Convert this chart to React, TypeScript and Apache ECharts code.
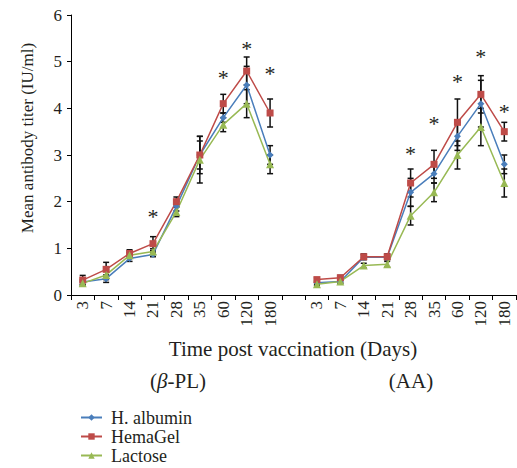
import React, { useEffect, useRef } from "react";
import * as echarts from "echarts";

const days = ["3", "7", "14", "21", "28", "35", "60", "120", "180"];
const categories = [...days, "", ...days];
const groupLabels = ["{p|(}{i|β}{p|-PL)}", "{p|(AA)}"];
const seriesNames = ["H. albumin", "HemaGel", "Lactose"];
const yTicks = [0, 1, 2, 3, 4, 5, 6];

// means (β-PL group, AA group)
const albuminPL = [0.28, 0.35, 0.78, 0.87, 1.9, 3.0, 3.8, 4.5, 3.0];
const albuminAA = [0.26, 0.29, 0.81, 0.81, 2.2, 2.6, 3.4, 4.1, 2.8];
const hemagelPL = [0.32, 0.55, 0.89, 1.1, 2.0, 3.0, 4.1, 4.8, 3.9];
const hemagelAA = [0.33, 0.37, 0.82, 0.82, 2.4, 2.8, 3.7, 4.3, 3.5];
const lactosePL = [0.25, 0.43, 0.85, 0.93, 1.78, 2.9, 3.65, 4.1, 2.8];
const lactoseAA = [0.23, 0.29, 0.63, 0.66, 1.7, 2.2, 3.0, 3.6, 2.4];

// error bar half-widths
const albuminErrPL = [0.05, 0.08, 0.06, 0.05, 0.1, 0.3, 0.1, 0.4, 0.2];
const albuminErrAA = [0.04, 0.04, 0.05, 0.05, 0.3, 0.2, 0.3, 0.5, 0.2];
const hemagelErrPL = [0.1, 0.15, 0.08, 0.15, 0.1, 0.4, 0.2, 0.3, 0.3];
const hemagelErrAA = [0.04, 0.05, 0.06, 0.06, 0.3, 0.3, 0.5, 0.4, 0.2];
const lactoseErrPL = [0.05, 0.1, 0.06, 0.06, 0.1, 0.5, 0.15, 0.3, 0.2];
const lactoseErrAA = [0.03, 0.03, 0.05, 0.06, 0.2, 0.2, 0.3, 0.4, 0.3];

// significance marks (height of asterisk)
const starPL: (number | null)[] = [null, null, null, 1.8, null, null, 4.76, 5.38, 4.86];
const starAA: (number | null)[] = [null, null, null, null, 3.14, 3.79, 4.69, 5.21, 4.05];

const colors = ["#4A7EBB", "#BE4B48", "#98B954"];
const symbols = ["diamond", "rect", "triangle"];
const symbolSizes = [7, 7, 8];
const FONT = '"Liberation Serif", "Times New Roman", serif';
const TEXT = "#231F20";

const join = (a: any[], b: any[]) => [...a, "-", ...b];

export default function App() {
  const ref = useRef<HTMLDivElement>(null);
  useEffect(() => {
    if (!ref.current) return;
    const chart = echarts.init(ref.current, null, { renderer: "svg" });
    const means = [
      join(albuminPL, albuminAA),
      join(hemagelPL, hemagelAA),
      join(lactosePL, lactoseAA),
    ];
    const errs = [
      join(albuminErrPL, albuminErrAA),
      join(hemagelErrPL, hemagelErrAA),
      join(lactoseErrPL, lactoseErrAA),
    ];
    const errData: number[][] = [];
    means.forEach((m, s) => {
      m.forEach((v: any, i: number) => {
        if (v === "-") return;
        const e = errs[s][i];
        errData.push([i, v - e, v + e]);
      });
    });
    const stars = [...starPL, null, ...starAA];
    const starData: number[][] = [];
    stars.forEach((v, i) => {
      if (v != null) starData.push([i, v]);
    });

    const lineSeries = seriesNames.map((name, s) => ({
      name,
      type: "line",
      data: means[s],
      symbol: symbols[s],
      symbolSize: symbolSizes[s],
      showSymbol: true,
      connectNulls: false,
      z: 3,
      lineStyle: { color: colors[s], width: 1.5 },
      itemStyle: { color: colors[s] },
    }));

    const richSub = {
      p: { fontFamily: FONT, fontSize: 21, color: TEXT },
      i: { fontFamily: FONT, fontSize: 21, color: TEXT, fontStyle: "italic" },
    };

    const legends = seriesNames.map((name, s) => ({
      orient: "vertical",
      left: 80,
      top: 408 + s * 19,
      itemWidth: 21,
      itemHeight: 8,
      padding: 0,
      data: [name],
      textStyle: {
        fontFamily: FONT,
        fontSize: 18,
        color: TEXT,
        lineHeight: 19,
        padding: [0, 0, 0, 4],
      },
    }));

    chart.setOption({
      animation: false,
      backgroundColor: "#ffffff",
      grid: { left: 71, right: 1, top: 15, bottom: 173, containLabel: false },
      legend: legends,
      xAxis: {
        type: "category",
        data: categories,
        boundaryGap: true,
        axisLine: { lineStyle: { color: "#000", width: 1 } },
        axisTick: { show: true, interval: 0, length: 5, lineStyle: { color: "#000" } },
        axisLabel: {
          interval: 0,
          rotate: 90,
          margin: 6,
          fontFamily: FONT,
          fontSize: 17,
          color: TEXT,
        },
      },
      yAxis: {
        type: "value",
        min: yTicks[0],
        max: yTicks[yTicks.length - 1],
        interval: 1,
        splitLine: { show: false },
        axisLine: { show: true, lineStyle: { color: "#000", width: 1 } },
        axisTick: { show: true, length: 4, lineStyle: { color: "#000" } },
        axisLabel: { fontFamily: FONT, fontSize: 17, color: TEXT, margin: 9 },
      },
      graphic: [
        {
          type: "text",
          x: 27,
          y: 138,
          rotation: Math.PI / 2,
          style: {
            text: "Mean antibody titer (IU/ml)",
            font: `17px ${FONT}`,
            fill: TEXT,
            align: "center",
            verticalAlign: "middle",
          },
        },
        {
          type: "text",
          x: 293,
          y: 349,
          style: {
            text: "Time post vaccination (Days)",
            font: `21px ${FONT}`,
            fill: TEXT,
            align: "center",
            verticalAlign: "middle",
          },
        },
        {
          type: "text",
          x: 178,
          y: 381,
          style: {
            text: groupLabels[0],
            rich: richSub,
            font: `21px ${FONT}`,
            fill: TEXT,
            align: "center",
            verticalAlign: "middle",
          },
        },
        {
          type: "text",
          x: 411,
          y: 381,
          style: {
            text: groupLabels[1],
            rich: richSub,
            font: `21px ${FONT}`,
            fill: TEXT,
            align: "center",
            verticalAlign: "middle",
          },
        },
      ],
      series: [
        {
          name: "err",
          type: "custom",
          z: 2,
          silent: true,
          data: errData,
          itemStyle: { color: "#111" },
          renderItem: (params: any, api: any) => {
            const x = api.value(0);
            const lo = api.coord([x, api.value(1)]);
            const hi = api.coord([x, api.value(2)]);
            const c = 3;
            const st = { stroke: "#111", lineWidth: 1.5 };
            return {
              type: "group",
              children: [
                { type: "line", shape: { x1: lo[0], y1: lo[1], x2: hi[0], y2: hi[1] }, style: st },
                { type: "line", shape: { x1: lo[0] - c, y1: lo[1], x2: lo[0] + c, y2: lo[1] }, style: st },
                { type: "line", shape: { x1: hi[0] - c, y1: hi[1], x2: hi[0] + c, y2: hi[1] }, style: st },
              ],
            };
          },
        },
        ...lineSeries,
        {
          name: "stars",
          type: "custom",
          z: 4,
          silent: true,
          data: starData,
          itemStyle: { color: TEXT },
          renderItem: (params: any, api: any) => {
            const p = api.coord([api.value(0), api.value(1)]);
            return {
              type: "text",
              x: p[0],
              y: p[1] + 5,
              style: {
                text: "*",
                font: `22px ${FONT}`,
                fill: TEXT,
                align: "center",
                verticalAlign: "middle",
              },
            };
          },
        },
      ],
    });
    return () => chart.dispose();
  }, []);
  return (
    <div
      ref={ref}
      style={{ position: "fixed", left: 0, top: 0, width: 517, height: 468 }}
    />
  );
}
